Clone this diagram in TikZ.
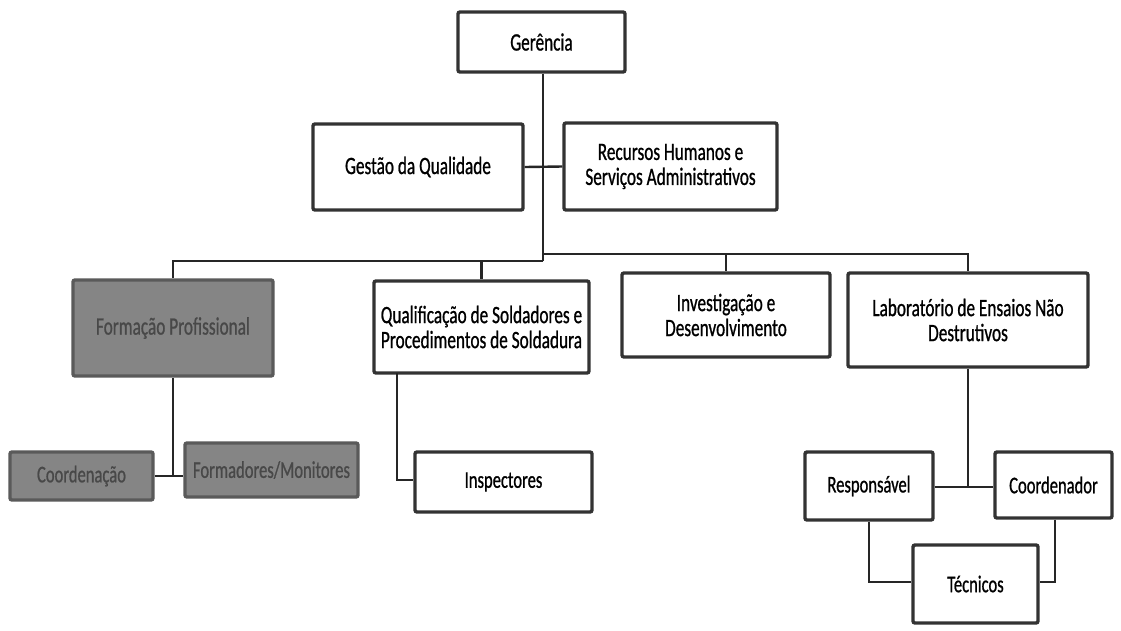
\documentclass[tikz,border=0pt]{standalone}
\usepackage{fontspec}
\setmainfont{Carlito}[FakeStretch=0.69, FakeBold=0.8]
\usetikzlibrary{calc}
\definecolor{frame}{HTML}{333333}
\definecolor{darkfill}{HTML}{858585}
\definecolor{darkframe}{HTML}{5A5A5A}
\definecolor{darktext}{HTML}{484848}
\tikzset{
  unit/.style={draw=frame, line width=3.4pt, fill=white, rounded corners=2pt,
    align=center, inner sep=2pt, font=\fontsize{25}{25}\selectfont},
  smallunit/.style={unit, font=\fontsize{24}{24}\selectfont},
  shaded/.style={fill=darkfill, draw=darkframe, text=darktext},
  link/.style={line width=2.4pt, draw=black!85}
}
\begin{document}
\begin{tikzpicture}[x=1pt, y=-1pt]
\fill[white] (0,0) rectangle (1121,630);
\useasboundingbox (0,0) rectangle (1121,630);

% junctions of the main trunk with the two halves of the bus
\coordinate (trunkL) at (543,261);
\coordinate (trunkR) at (543,254);

% boxes
\node[unit, minimum width=167pt, minimum height=60pt] (ger) at (541.5,42) {Gerência};
\node[unit, minimum width=210pt, minimum height=86pt] (gq) at (418,167) {Gestão da Qualidade};
\node[unit, minimum width=213pt, minimum height=87pt] (rh) at (670.5,166.5) {Recursos Humanos e\\Serviços Administrativos};
\node[unit, shaded, minimum width=200pt, minimum height=96pt] (fp) at (173,328) {Formação Profissional};
\node[unit, minimum width=215pt, minimum height=92pt] (qs) at (481.5,327) {Qualificação de Soldadores e\\Procedimentos de Soldadura};
\node[unit, minimum width=208pt, minimum height=84pt] (id) at (726,315) {Investigação e\\Desenvolvimento};
\node[unit, minimum width=240pt, minimum height=94pt] (le) at (968,320) {Laboratório de Ensaios Não\\Destrutivos};
\node[smallunit, shaded, minimum width=143pt, minimum height=48pt] (co) at (81.5,476) {Coordenação};
\node[smallunit, shaded, minimum width=173pt, minimum height=54pt] (fm) at (271.5,470) {Formadores/Monitores};
\node[smallunit, minimum width=177pt, minimum height=60pt] (in) at (503.5,482) {Inspectores};
\node[smallunit, minimum width=128pt, minimum height=68pt] (re) at (869,486) {Responsável};
\node[smallunit, minimum width=117pt, minimum height=66pt] (cd) at (1053.5,485) {Coordenador};
\node[smallunit, minimum width=125pt, minimum height=78pt] (te) at (975.5,584) {Técnicos};

% top of the chart
\draw[link] (ger.south -| trunkL) -- (trunkL);
\draw[link] (gq.east) -- (rh.west);
\draw[link] (trunkL) -- (fp.north |- trunkL) -- (fp.north);
\draw[link] (trunkR) -- (le.north |- trunkR) -- (le.north);
\draw[link] (qs.north |- trunkL) -- (qs.north);
\draw[link] (id.north |- trunkR) -- (id.north);

% Formação Profissional branch
\coordinate (fpj) at (fp.south |- co.east);
\draw[link] (fp.south) -- (fpj);
\draw[link] (co.east) -- (fm.west |- co.east);

% Qualificação branch
\coordinate (qsx) at (397,373);
\coordinate (qsj) at (397,480);
\draw[link] (qsx) -- (qsj) -- (in.west |- qsj);

% Laboratório branch
\coordinate (lej) at (le.south |- 0,487);
\draw[link] (le.south) -- (lej);
\draw[link] (re.east |- lej) -- (cd.west |- lej);
\coordinate (rej) at (re.south |- 0,582);
\coordinate (cdj) at (1055,582);
\draw[link] (re.south) -- (rej) -- (te.west |- rej);
\draw[link] (cd.south -| cdj) -- (cdj) -- (te.east |- cdj);
\end{tikzpicture}
\end{document}
